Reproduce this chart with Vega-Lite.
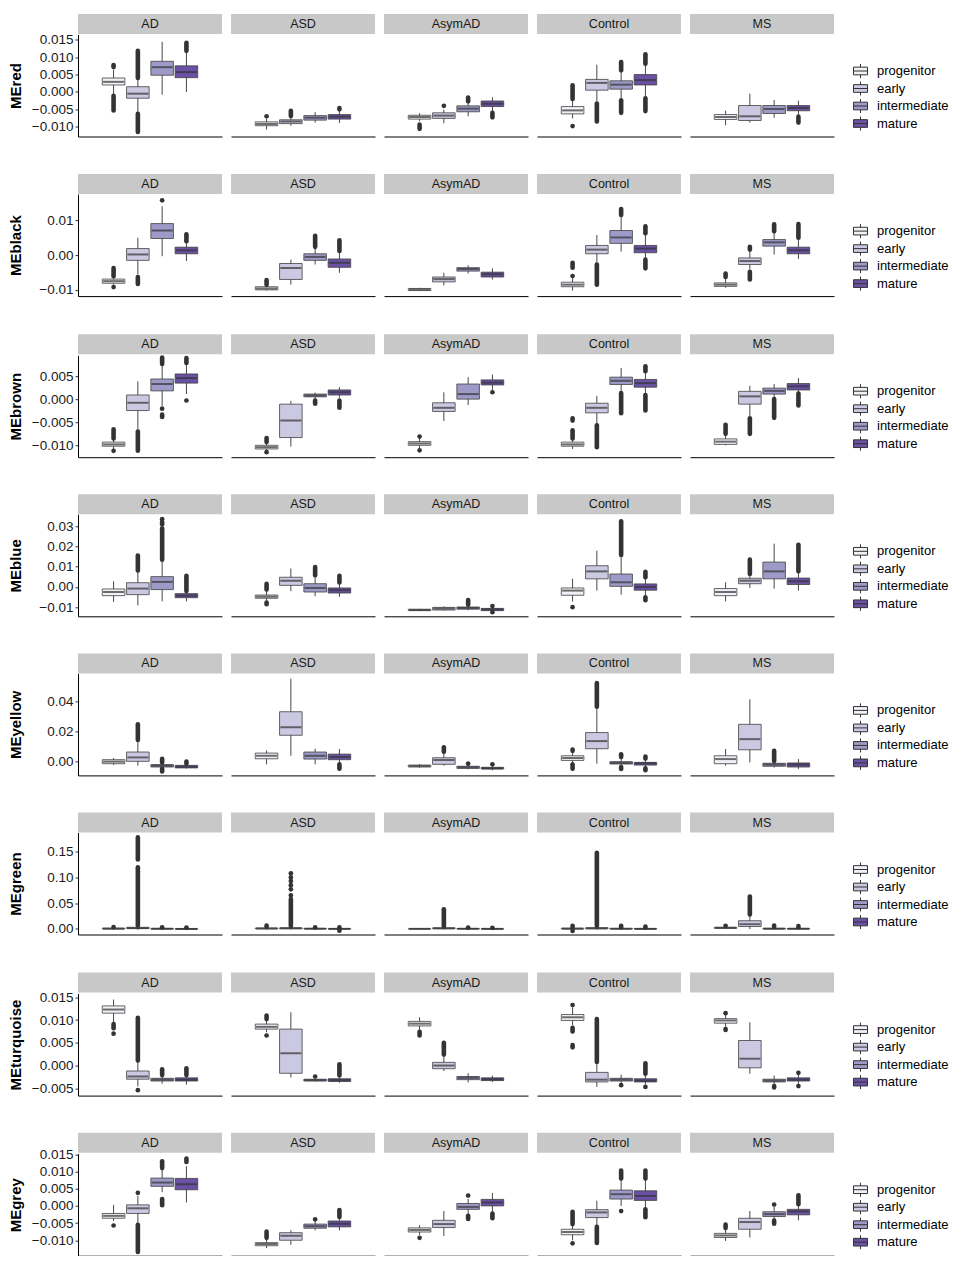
{
"$schema": "https://vega.github.io/schema/vega-lite/v6.json",
"background": "white",
"padding": {"left": 8, "top": 14, "right": 0, "bottom": 0},
"config": {
  "font": "Liberation Sans",
  "view": {"stroke": null},
  "axis": {"grid": false},
  "axisY": {"domainColor": "#000", "domainWidth": 1, "tickColor": "#333", "tickSize": 3, "labelFontSize": 13.5, "labelColor": "#1a1a1a", "labelPadding": 2, "labelOverlap": false, "titleFontSize": 15, "titleFontWeight": "bold", "titleColor": "#000", "titleX": -55},
  "legend": {"title": null, "orient": "none", "legendX": 775, "legendY": 49.5, "symbolType": "M-1,-0.55H1V0.55H-1Z M-1,0H1 M0,-0.55V-1 M0,0.55V1", "symbolSize": 196, "symbolStrokeColor": "#333", "symbolStrokeWidth": 1, "labelFontSize": 13, "labelColor": "#000", "rowPadding": -1.5, "labelOffset": 9, "padding": 0}
},
"datasets": {
"dz": [{"d":"AD"},{"d":"ASD"},{"d":"AsymAD"},{"d":"Control"},{"d":"MS"}],
"red": [
{"k":"b","d":"AD","s":"progenitor","lo":-0.0008,"q1":0.002,"md":0.0029,"q3":0.004,"hi":0.0065},
{"k":"p","d":"AD","s":"progenitor","v":0.0072},
{"k":"p","d":"AD","s":"progenitor","v":0.0077},
{"k":"r","d":"AD","s":"progenitor","a":-0.0053,"b":-0.0011},
{"k":"b","d":"AD","s":"early","lo":-0.0058,"q1":-0.0018,"md":-0.0005,"q3":0.0015,"hi":0.0037},
{"k":"r","d":"AD","s":"early","a":0.004,"b":0.0118},
{"k":"r","d":"AD","s":"early","a":-0.0115,"b":-0.0063},
{"k":"b","d":"AD","s":"intermediate","lo":-0.0008,"q1":0.0048,"md":0.0071,"q3":0.0088,"hi":0.0144},
{"k":"b","d":"AD","s":"mature","lo":0.0,"q1":0.0041,"md":0.0057,"q3":0.0075,"hi":0.0113},
{"k":"r","d":"AD","s":"mature","a":0.0118,"b":0.0141},
{"k":"b","d":"ASD","s":"progenitor","lo":-0.0108,"q1":-0.0097,"md":-0.0092,"q3":-0.0086,"hi":-0.0078},
{"k":"p","d":"ASD","s":"progenitor","v":-0.007},
{"k":"b","d":"ASD","s":"early","lo":-0.0097,"q1":-0.0091,"md":-0.0085,"q3":-0.008,"hi":-0.0073},
{"k":"r","d":"ASD","s":"early","a":-0.0069,"b":-0.0054},
{"k":"b","d":"ASD","s":"intermediate","lo":-0.0088,"q1":-0.0081,"md":-0.0074,"q3":-0.0068,"hi":-0.0058},
{"k":"b","d":"ASD","s":"mature","lo":-0.0089,"q1":-0.0078,"md":-0.0071,"q3":-0.0065,"hi":-0.0055},
{"k":"r","d":"ASD","s":"mature","a":-0.005,"b":-0.0046},
{"k":"b","d":"AsymAD","s":"progenitor","lo":-0.0084,"q1":-0.0078,"md":-0.0072,"q3":-0.0067,"hi":-0.0061},
{"k":"r","d":"AsymAD","s":"progenitor","a":-0.0106,"b":-0.0094},
{"k":"b","d":"AsymAD","s":"early","lo":-0.009,"q1":-0.0076,"md":-0.0068,"q3":-0.006,"hi":-0.0051},
{"k":"p","d":"AsymAD","s":"early","v":-0.004},
{"k":"b","d":"AsymAD","s":"intermediate","lo":-0.007,"q1":-0.0057,"md":-0.0048,"q3":-0.004,"hi":-0.0031},
{"k":"r","d":"AsymAD","s":"intermediate","a":-0.0027,"b":-0.0016},
{"k":"b","d":"AsymAD","s":"mature","lo":-0.0055,"q1":-0.0042,"md":-0.0034,"q3":-0.0026,"hi":-0.0015},
{"k":"r","d":"AsymAD","s":"mature","a":-0.0073,"b":-0.006},
{"k":"b","d":"Control","s":"progenitor","lo":-0.0076,"q1":-0.0063,"md":-0.0053,"q3":-0.0042,"hi":-0.0024},
{"k":"r","d":"Control","s":"progenitor","a":-0.002,"b":0.0019},
{"k":"p","d":"Control","s":"progenitor","v":-0.0098},
{"k":"b","d":"Control","s":"early","lo":-0.0027,"q1":0.0005,"md":0.0026,"q3":0.0036,"hi":0.0078},
{"k":"r","d":"Control","s":"early","a":-0.0085,"b":-0.0033},
{"k":"b","d":"Control","s":"intermediate","lo":-0.0018,"q1":0.0008,"md":0.0021,"q3":0.0032,"hi":0.0059},
{"k":"r","d":"Control","s":"intermediate","a":0.0062,"b":0.0086},
{"k":"r","d":"Control","s":"intermediate","a":-0.006,"b":-0.0024},
{"k":"b","d":"Control","s":"mature","lo":-0.0013,"q1":0.002,"md":0.0034,"q3":0.005,"hi":0.0078},
{"k":"r","d":"Control","s":"mature","a":0.0081,"b":0.0108},
{"k":"r","d":"Control","s":"mature","a":-0.0055,"b":-0.0018},
{"k":"b","d":"MS","s":"progenitor","lo":-0.0096,"q1":-0.0079,"md":-0.0072,"q3":-0.0065,"hi":-0.0054},
{"k":"b","d":"MS","s":"early","lo":-0.0088,"q1":-0.0082,"md":-0.007,"q3":-0.0039,"hi":-0.0005},
{"k":"b","d":"MS","s":"intermediate","lo":-0.0074,"q1":-0.0062,"md":-0.0049,"q3":-0.0039,"hi":-0.0023},
{"k":"b","d":"MS","s":"mature","lo":-0.0065,"q1":-0.0054,"md":-0.0046,"q3":-0.0039,"hi":-0.0025},
{"k":"r","d":"MS","s":"mature","a":-0.0088,"b":-0.0071}
],
"black": [
{"k":"b","d":"AD","s":"progenitor","lo":-0.0085,"q1":-0.0081,"md":-0.0075,"q3":-0.0069,"hi":-0.0065},
{"k":"r","d":"AD","s":"progenitor","a":-0.0061,"b":-0.0037},
{"k":"p","d":"AD","s":"progenitor","v":-0.0092},
{"k":"b","d":"AD","s":"early","lo":-0.0056,"q1":-0.0015,"md":0.0002,"q3":0.0019,"hi":0.005},
{"k":"r","d":"AD","s":"early","a":-0.0083,"b":-0.0063},
{"k":"b","d":"AD","s":"intermediate","lo":-0.0003,"q1":0.0048,"md":0.0071,"q3":0.0091,"hi":0.0141},
{"k":"p","d":"AD","s":"intermediate","v":0.0158},
{"k":"b","d":"AD","s":"mature","lo":-0.0017,"q1":0.0004,"md":0.0014,"q3":0.0023,"hi":0.0038},
{"k":"r","d":"AD","s":"mature","a":0.004,"b":0.006},
{"k":"b","d":"ASD","s":"progenitor","lo":-0.0102,"q1":-0.01,"md":-0.0096,"q3":-0.0091,"hi":-0.0087},
{"k":"r","d":"ASD","s":"progenitor","a":-0.0085,"b":-0.0072},
{"k":"b","d":"ASD","s":"early","lo":-0.0085,"q1":-0.007,"md":-0.0037,"q3":-0.0024,"hi":-0.0013},
{"k":"b","d":"ASD","s":"intermediate","lo":-0.0027,"q1":-0.0015,"md":-0.0005,"q3":0.0004,"hi":0.0021},
{"k":"r","d":"ASD","s":"intermediate","a":0.0024,"b":0.0056},
{"k":"b","d":"ASD","s":"mature","lo":-0.0051,"q1":-0.0035,"md":-0.0022,"q3":-0.0011,"hi":0.0007},
{"k":"r","d":"ASD","s":"mature","a":0.0012,"b":0.0043},
{"k":"b","d":"AsymAD","s":"progenitor","lo":-0.0103,"q1":-0.0102,"md":-0.0099,"q3":-0.0096,"hi":-0.0094},
{"k":"b","d":"AsymAD","s":"early","lo":-0.0087,"q1":-0.0077,"md":-0.0069,"q3":-0.0063,"hi":-0.0051},
{"k":"b","d":"AsymAD","s":"intermediate","lo":-0.0053,"q1":-0.0046,"md":-0.004,"q3":-0.0036,"hi":-0.0029},
{"k":"b","d":"AsymAD","s":"mature","lo":-0.007,"q1":-0.0063,"md":-0.0055,"q3":-0.0049,"hi":-0.0038},
{"k":"b","d":"Control","s":"progenitor","lo":-0.0102,"q1":-0.0091,"md":-0.0085,"q3":-0.0078,"hi":-0.0066},
{"k":"r","d":"Control","s":"progenitor","a":-0.0036,"b":-0.0022},
{"k":"p","d":"Control","s":"progenitor","v":-0.006},
{"k":"b","d":"Control","s":"early","lo":-0.0022,"q1":0.0004,"md":0.0016,"q3":0.0028,"hi":0.0058},
{"k":"r","d":"Control","s":"early","a":-0.0085,"b":-0.0027},
{"k":"b","d":"Control","s":"intermediate","lo":0.001,"q1":0.0034,"md":0.0051,"q3":0.0071,"hi":0.0113},
{"k":"r","d":"Control","s":"intermediate","a":0.0116,"b":0.0133},
{"k":"b","d":"Control","s":"mature","lo":-0.0008,"q1":0.0007,"md":0.0019,"q3":0.0028,"hi":0.006},
{"k":"r","d":"Control","s":"mature","a":0.0063,"b":0.0083},
{"k":"r","d":"Control","s":"mature","a":-0.0038,"b":-0.0013},
{"k":"b","d":"MS","s":"progenitor","lo":-0.0094,"q1":-0.009,"md":-0.0085,"q3":-0.008,"hi":-0.0066},
{"k":"r","d":"MS","s":"progenitor","a":-0.0063,"b":-0.0053},
{"k":"b","d":"MS","s":"early","lo":-0.0041,"q1":-0.0027,"md":-0.0017,"q3":-0.0008,"hi":0.0013},
{"k":"r","d":"MS","s":"early","a":0.0016,"b":0.0024},
{"k":"r","d":"MS","s":"early","a":-0.007,"b":-0.0048},
{"k":"b","d":"MS","s":"intermediate","lo":0.0002,"q1":0.0026,"md":0.0037,"q3":0.0045,"hi":0.0066},
{"k":"r","d":"MS","s":"intermediate","a":0.0069,"b":0.0089},
{"k":"b","d":"MS","s":"mature","lo":-0.0011,"q1":0.0004,"md":0.0014,"q3":0.0023,"hi":0.0046},
{"k":"r","d":"MS","s":"mature","a":0.005,"b":0.009}
],
"brown": [
{"k":"b","d":"AD","s":"progenitor","lo":-0.0108,"q1":-0.0102,"md":-0.0098,"q3":-0.0093,"hi":-0.0087},
{"k":"r","d":"AD","s":"progenitor","a":-0.0085,"b":-0.0065},
{"k":"p","d":"AD","s":"progenitor","v":-0.0112},
{"k":"b","d":"AD","s":"early","lo":-0.0066,"q1":-0.0024,"md":-0.0007,"q3":0.001,"hi":0.004},
{"k":"r","d":"AD","s":"early","a":-0.0112,"b":-0.007},
{"k":"b","d":"AD","s":"intermediate","lo":-0.0014,"q1":0.0019,"md":0.0034,"q3":0.0045,"hi":0.0075},
{"k":"r","d":"AD","s":"intermediate","a":0.0078,"b":0.0092},
{"k":"p","d":"AD","s":"intermediate","v":-0.002},
{"k":"r","d":"AD","s":"intermediate","a":-0.0038,"b":-0.0033},
{"k":"b","d":"AD","s":"mature","lo":0.0012,"q1":0.0036,"md":0.0047,"q3":0.0056,"hi":0.0077},
{"k":"r","d":"AD","s":"mature","a":0.008,"b":0.0091},
{"k":"p","d":"AD","s":"mature","v":-0.0002},
{"k":"b","d":"ASD","s":"progenitor","lo":-0.0112,"q1":-0.0108,"md":-0.0104,"q3":-0.01,"hi":-0.0095},
{"k":"r","d":"ASD","s":"progenitor","a":-0.0093,"b":-0.0084},
{"k":"p","d":"ASD","s":"progenitor","v":-0.0115},
{"k":"b","d":"ASD","s":"early","lo":-0.0103,"q1":-0.0083,"md":-0.0046,"q3":-0.001,"hi":-0.0003},
{"k":"b","d":"ASD","s":"intermediate","lo":0.0001,"q1":0.0006,"md":0.0009,"q3":0.0012,"hi":0.0015},
{"k":"r","d":"ASD","s":"intermediate","a":-0.0009,"b":-0.0002},
{"k":"b","d":"ASD","s":"mature","lo":0.0004,"q1":0.001,"md":0.0016,"q3":0.0021,"hi":0.0027},
{"k":"r","d":"ASD","s":"mature","a":-0.0018,"b":-0.0002},
{"k":"b","d":"AsymAD","s":"progenitor","lo":-0.0106,"q1":-0.01,"md":-0.0096,"q3":-0.0092,"hi":-0.0086},
{"k":"p","d":"AsymAD","s":"progenitor","v":-0.0081},
{"k":"p","d":"AsymAD","s":"progenitor","v":-0.0111},
{"k":"b","d":"AsymAD","s":"early","lo":-0.0047,"q1":-0.0026,"md":-0.0018,"q3":-0.0007,"hi":0.0016},
{"k":"b","d":"AsymAD","s":"intermediate","lo":-0.0012,"q1":0.0001,"md":0.0012,"q3":0.0034,"hi":0.0049},
{"k":"b","d":"AsymAD","s":"mature","lo":0.0021,"q1":0.0032,"md":0.0037,"q3":0.0043,"hi":0.0055},
{"k":"p","d":"AsymAD","s":"mature","v":0.0016},
{"k":"b","d":"Control","s":"progenitor","lo":-0.0108,"q1":-0.0102,"md":-0.0098,"q3":-0.0093,"hi":-0.0088},
{"k":"r","d":"Control","s":"progenitor","a":-0.0085,"b":-0.0067},
{"k":"r","d":"Control","s":"progenitor","a":-0.0046,"b":-0.0041},
{"k":"b","d":"Control","s":"early","lo":-0.0053,"q1":-0.0029,"md":-0.0018,"q3":-0.0008,"hi":0.0008},
{"k":"r","d":"Control","s":"early","a":-0.0104,"b":-0.0056},
{"k":"b","d":"Control","s":"intermediate","lo":0.0019,"q1":0.0033,"md":0.0041,"q3":0.0049,"hi":0.0069},
{"k":"r","d":"Control","s":"intermediate","a":-0.003,"b":0.0014},
{"k":"b","d":"Control","s":"mature","lo":0.0013,"q1":0.0027,"md":0.0036,"q3":0.0044,"hi":0.006},
{"k":"r","d":"Control","s":"mature","a":0.0062,"b":0.0073},
{"k":"r","d":"Control","s":"mature","a":-0.0024,"b":0.001},
{"k":"b","d":"MS","s":"progenitor","lo":-0.01,"q1":-0.0098,"md":-0.0092,"q3":-0.0086,"hi":-0.0077},
{"k":"r","d":"MS","s":"progenitor","a":-0.0075,"b":-0.0055},
{"k":"b","d":"MS","s":"early","lo":-0.0036,"q1":-0.001,"md":0.0007,"q3":0.0018,"hi":0.003},
{"k":"r","d":"MS","s":"early","a":-0.0075,"b":-0.0041},
{"k":"b","d":"MS","s":"intermediate","lo":0.0004,"q1":0.0012,"md":0.0019,"q3":0.0025,"hi":0.0034},
{"k":"r","d":"MS","s":"intermediate","a":-0.004,"b":0.0001},
{"k":"b","d":"MS","s":"mature","lo":0.0016,"q1":0.0021,"md":0.0029,"q3":0.0035,"hi":0.0047},
{"k":"r","d":"MS","s":"mature","a":-0.0013,"b":0.0013}
],
"blue": [
{"k":"b","d":"AD","s":"progenitor","lo":-0.0074,"q1":-0.0043,"md":-0.0025,"q3":-0.001,"hi":0.0028},
{"k":"b","d":"AD","s":"early","lo":-0.0091,"q1":-0.0038,"md":-0.0008,"q3":0.0021,"hi":0.0077},
{"k":"r","d":"AD","s":"early","a":0.0081,"b":0.0155},
{"k":"b","d":"AD","s":"intermediate","lo":-0.0071,"q1":-0.0013,"md":0.0025,"q3":0.0051,"hi":0.0127},
{"k":"r","d":"AD","s":"intermediate","a":0.0135,"b":0.029},
{"k":"p","d":"AD","s":"intermediate","v":0.031},
{"k":"p","d":"AD","s":"intermediate","v":0.032},
{"k":"p","d":"AD","s":"intermediate","v":0.0335},
{"k":"b","d":"AD","s":"mature","lo":-0.0071,"q1":-0.0053,"md":-0.0043,"q3":-0.0033,"hi":-0.0025},
{"k":"r","d":"AD","s":"mature","a":-0.002,"b":0.0055},
{"k":"b","d":"ASD","s":"progenitor","lo":-0.0072,"q1":-0.0056,"md":-0.0048,"q3":-0.004,"hi":-0.0016},
{"k":"r","d":"ASD","s":"progenitor","a":-0.0012,"b":0.0015},
{"k":"r","d":"ASD","s":"progenitor","a":-0.0085,"b":-0.0077},
{"k":"b","d":"ASD","s":"early","lo":-0.0021,"q1":0.0008,"md":0.0031,"q3":0.0048,"hi":0.0091},
{"k":"b","d":"ASD","s":"intermediate","lo":-0.0046,"q1":-0.0025,"md":-0.0005,"q3":0.0016,"hi":0.0053},
{"k":"r","d":"ASD","s":"intermediate","a":0.0058,"b":0.0098},
{"k":"b","d":"ASD","s":"mature","lo":-0.0049,"q1":-0.003,"md":-0.0016,"q3":-0.0005,"hi":0.002},
{"k":"r","d":"ASD","s":"mature","a":0.0022,"b":0.0055},
{"k":"b","d":"AsymAD","s":"progenitor","lo":-0.0119,"q1":-0.0117,"md":-0.0114,"q3":-0.011,"hi":-0.0108},
{"k":"b","d":"AsymAD","s":"early","lo":-0.0117,"q1":-0.0114,"md":-0.0107,"q3":-0.0101,"hi":-0.0096},
{"k":"b","d":"AsymAD","s":"intermediate","lo":-0.0115,"q1":-0.011,"md":-0.0104,"q3":-0.0099,"hi":-0.0092},
{"k":"r","d":"AsymAD","s":"intermediate","a":-0.0088,"b":-0.0065},
{"k":"b","d":"AsymAD","s":"mature","lo":-0.0122,"q1":-0.0117,"md":-0.0111,"q3":-0.0106,"hi":-0.0098},
{"k":"p","d":"AsymAD","s":"mature","v":-0.0094},
{"k":"p","d":"AsymAD","s":"mature","v":-0.0125},
{"k":"b","d":"Control","s":"progenitor","lo":-0.0072,"q1":-0.0041,"md":-0.0018,"q3":-0.0005,"hi":0.0041},
{"k":"p","d":"Control","s":"progenitor","v":-0.01},
{"k":"b","d":"Control","s":"early","lo":-0.0018,"q1":0.004,"md":0.0077,"q3":0.0105,"hi":0.0179},
{"k":"b","d":"Control","s":"intermediate","lo":-0.0038,"q1":0.0003,"md":0.0023,"q3":0.0064,"hi":0.0151},
{"k":"r","d":"Control","s":"intermediate","a":0.0158,"b":0.0325},
{"k":"b","d":"Control","s":"mature","lo":-0.0046,"q1":-0.0016,"md":0.0,"q3":0.0015,"hi":0.0044},
{"k":"r","d":"Control","s":"mature","a":0.0048,"b":0.0075},
{"k":"r","d":"Control","s":"mature","a":-0.0066,"b":-0.0051},
{"k":"b","d":"MS","s":"progenitor","lo":-0.0071,"q1":-0.0043,"md":-0.0025,"q3":-0.0008,"hi":0.0023},
{"k":"b","d":"MS","s":"early","lo":-0.0005,"q1":0.0016,"md":0.0031,"q3":0.0043,"hi":0.0058},
{"k":"r","d":"MS","s":"early","a":0.0064,"b":0.0135},
{"k":"b","d":"MS","s":"intermediate","lo":-0.0008,"q1":0.004,"md":0.0077,"q3":0.0123,"hi":0.0214},
{"k":"b","d":"MS","s":"mature","lo":-0.0018,"q1":0.0012,"md":0.0028,"q3":0.0044,"hi":0.0074},
{"k":"r","d":"MS","s":"mature","a":0.0078,"b":0.0208}
],
"yellow": [
{"k":"b","d":"AD","s":"progenitor","lo":-0.0027,"q1":-0.0018,"md":-0.0004,"q3":0.0009,"hi":0.002},
{"k":"b","d":"AD","s":"early","lo":-0.0031,"q1":-0.0002,"md":0.0024,"q3":0.006,"hi":0.0135},
{"k":"r","d":"AD","s":"early","a":0.0141,"b":0.0245},
{"k":"b","d":"AD","s":"intermediate","lo":-0.0047,"q1":-0.004,"md":-0.0031,"q3":-0.0024,"hi":-0.0013},
{"k":"r","d":"AD","s":"intermediate","a":-0.001,"b":0.0015},
{"k":"r","d":"AD","s":"intermediate","a":-0.007,"b":-0.0052},
{"k":"b","d":"AD","s":"mature","lo":-0.005,"q1":-0.0046,"md":-0.0038,"q3":-0.0029,"hi":-0.0021},
{"k":"r","d":"AD","s":"mature","a":-0.0018,"b":-0.0004},
{"k":"b","d":"ASD","s":"progenitor","lo":-0.0022,"q1":0.0015,"md":0.0035,"q3":0.0053,"hi":0.0071},
{"k":"b","d":"ASD","s":"early","lo":0.0035,"q1":0.0172,"md":0.0225,"q3":0.0329,"hi":0.055},
{"k":"b","d":"ASD","s":"intermediate","lo":-0.0022,"q1":0.0013,"md":0.0035,"q3":0.006,"hi":0.0082},
{"k":"b","d":"ASD","s":"mature","lo":-0.0013,"q1":0.0009,"md":0.0027,"q3":0.0046,"hi":0.008},
{"k":"r","d":"ASD","s":"mature","a":-0.0051,"b":-0.0022},
{"k":"b","d":"AsymAD","s":"progenitor","lo":-0.0045,"q1":-0.004,"md":-0.0033,"q3":-0.0027,"hi":-0.002},
{"k":"b","d":"AsymAD","s":"early","lo":-0.0031,"q1":-0.0022,"md":0.0007,"q3":0.0022,"hi":0.0053},
{"k":"r","d":"AsymAD","s":"early","a":0.0062,"b":0.0092},
{"k":"b","d":"AsymAD","s":"intermediate","lo":-0.0055,"q1":-0.0049,"md":-0.0042,"q3":-0.0035,"hi":-0.0025},
{"k":"p","d":"AsymAD","s":"intermediate","v":-0.0018},
{"k":"b","d":"AsymAD","s":"mature","lo":-0.0062,"q1":-0.0053,"md":-0.0049,"q3":-0.0042,"hi":-0.0032},
{"k":"p","d":"AsymAD","s":"mature","v":-0.0022},
{"k":"b","d":"Control","s":"progenitor","lo":-0.0013,"q1":0.0004,"md":0.002,"q3":0.0035,"hi":0.0064},
{"k":"r","d":"Control","s":"progenitor","a":0.0068,"b":0.0076},
{"k":"r","d":"Control","s":"progenitor","a":-0.0051,"b":-0.0022},
{"k":"b","d":"Control","s":"early","lo":-0.0018,"q1":0.0082,"md":0.0133,"q3":0.019,"hi":0.0351},
{"k":"r","d":"Control","s":"early","a":0.0362,"b":0.052},
{"k":"b","d":"Control","s":"intermediate","lo":-0.0035,"q1":-0.002,"md":-0.0013,"q3":-0.0004,"hi":0.002},
{"k":"r","d":"Control","s":"intermediate","a":0.0027,"b":0.0045},
{"k":"r","d":"Control","s":"intermediate","a":-0.0053,"b":-0.004},
{"k":"b","d":"Control","s":"mature","lo":-0.0044,"q1":-0.0027,"md":-0.0015,"q3":-0.0009,"hi":0.0013},
{"k":"r","d":"Control","s":"mature","a":0.0017,"b":0.003},
{"k":"r","d":"Control","s":"mature","a":-0.0062,"b":-0.0048},
{"k":"b","d":"MS","s":"progenitor","lo":-0.0031,"q1":-0.0018,"md":0.0013,"q3":0.0035,"hi":0.008},
{"k":"b","d":"MS","s":"early","lo":-0.0009,"q1":0.0075,"md":0.0146,"q3":0.0245,"hi":0.0411},
{"k":"b","d":"MS","s":"intermediate","lo":-0.0044,"q1":-0.0035,"md":-0.0024,"q3":-0.0015,"hi":-0.0004},
{"k":"r","d":"MS","s":"intermediate","a":0.0,"b":0.0068},
{"k":"b","d":"MS","s":"mature","lo":-0.0053,"q1":-0.004,"md":-0.0024,"q3":-0.0013,"hi":0.0013}
],
"green": [
{"k":"b","d":"AD","s":"progenitor","lo":-0.0015,"q1":-0.0003,"md":0.0005,"q3":0.0012,"hi":0.0028},
{"k":"p","d":"AD","s":"progenitor","v":0.0035},
{"k":"b","d":"AD","s":"early","lo":-0.002,"q1":0.0005,"md":0.0015,"q3":0.003,"hi":0.006},
{"k":"r","d":"AD","s":"early","a":0.0065,"b":0.12},
{"k":"r","d":"AD","s":"early","a":0.135,"b":0.178},
{"k":"b","d":"AD","s":"intermediate","lo":-0.002,"q1":-0.0005,"md":0.0002,"q3":0.0008,"hi":0.002},
{"k":"p","d":"AD","s":"intermediate","v":0.003},
{"k":"b","d":"AD","s":"mature","lo":-0.0025,"q1":-0.0008,"md":-0.0002,"q3":0.0005,"hi":0.0018},
{"k":"p","d":"AD","s":"mature","v":0.0025},
{"k":"b","d":"ASD","s":"progenitor","lo":-0.001,"q1":0.0,"md":0.0008,"q3":0.0015,"hi":0.003},
{"k":"r","d":"ASD","s":"progenitor","a":0.004,"b":0.0065},
{"k":"b","d":"ASD","s":"early","lo":-0.001,"q1":0.0002,"md":0.001,"q3":0.002,"hi":0.0045},
{"k":"r","d":"ASD","s":"early","a":0.0055,"b":0.058},
{"k":"p","d":"ASD","s":"early","v":0.065},
{"k":"p","d":"ASD","s":"early","v":0.077},
{"k":"p","d":"ASD","s":"early","v":0.085},
{"k":"p","d":"ASD","s":"early","v":0.093},
{"k":"p","d":"ASD","s":"early","v":0.1},
{"k":"p","d":"ASD","s":"early","v":0.108},
{"k":"b","d":"ASD","s":"intermediate","lo":-0.0015,"q1":-0.0003,"md":0.0003,"q3":0.0008,"hi":0.002},
{"k":"p","d":"ASD","s":"intermediate","v":0.003},
{"k":"b","d":"ASD","s":"mature","lo":-0.002,"q1":-0.0006,"md":0.0,"q3":0.0006,"hi":0.0018},
{"k":"p","d":"ASD","s":"mature","v":0.0028},
{"k":"p","d":"ASD","s":"mature","v":-0.0035},
{"k":"b","d":"AsymAD","s":"progenitor","lo":-0.0008,"q1":-0.0003,"md":0.0,"q3":0.0003,"hi":0.0008},
{"k":"b","d":"AsymAD","s":"early","lo":-0.0008,"q1":0.0003,"md":0.001,"q3":0.002,"hi":0.004},
{"k":"r","d":"AsymAD","s":"early","a":0.005,"b":0.038},
{"k":"b","d":"AsymAD","s":"intermediate","lo":-0.001,"q1":-0.0003,"md":0.0002,"q3":0.0006,"hi":0.0015},
{"k":"p","d":"AsymAD","s":"intermediate","v":0.0025},
{"k":"b","d":"AsymAD","s":"mature","lo":-0.0012,"q1":-0.0005,"md":0.0,"q3":0.0004,"hi":0.0012},
{"k":"p","d":"AsymAD","s":"mature","v":0.002},
{"k":"b","d":"Control","s":"progenitor","lo":-0.0015,"q1":-0.0003,"md":0.0004,"q3":0.0012,"hi":0.003},
{"k":"r","d":"Control","s":"progenitor","a":0.0038,"b":0.006},
{"k":"p","d":"Control","s":"progenitor","v":-0.004},
{"k":"b","d":"Control","s":"early","lo":-0.0015,"q1":0.0002,"md":0.001,"q3":0.0022,"hi":0.005},
{"k":"r","d":"Control","s":"early","a":0.0058,"b":0.148},
{"k":"b","d":"Control","s":"intermediate","lo":-0.0015,"q1":-0.0004,"md":0.0002,"q3":0.0008,"hi":0.0022},
{"k":"r","d":"Control","s":"intermediate","a":0.003,"b":0.006},
{"k":"b","d":"Control","s":"mature","lo":-0.0018,"q1":-0.0006,"md":0.0,"q3":0.0006,"hi":0.0018},
{"k":"r","d":"Control","s":"mature","a":0.0025,"b":0.0045},
{"k":"b","d":"MS","s":"progenitor","lo":-0.0005,"q1":0.001,"md":0.002,"q3":0.003,"hi":0.005},
{"k":"p","d":"MS","s":"progenitor","v":0.006},
{"k":"b","d":"MS","s":"early","lo":-0.0005,"q1":0.0045,"md":0.009,"q3":0.0158,"hi":0.0257},
{"k":"r","d":"MS","s":"early","a":0.028,"b":0.063},
{"k":"b","d":"MS","s":"intermediate","lo":-0.0015,"q1":-0.0003,"md":0.0003,"q3":0.001,"hi":0.003},
{"k":"r","d":"MS","s":"intermediate","a":0.004,"b":0.0065},
{"k":"b","d":"MS","s":"mature","lo":-0.0015,"q1":-0.0004,"md":0.0002,"q3":0.0008,"hi":0.0025},
{"k":"r","d":"MS","s":"mature","a":0.0032,"b":0.0055}
],
"turquoise": [
{"k":"b","d":"AD","s":"progenitor","lo":0.0095,"q1":0.0115,"md":0.0123,"q3":0.0131,"hi":0.0145},
{"k":"r","d":"AD","s":"progenitor","a":0.0082,"b":0.0091},
{"k":"p","d":"AD","s":"progenitor","v":0.007},
{"k":"b","d":"AD","s":"early","lo":-0.0046,"q1":-0.003,"md":-0.0024,"q3":-0.0012,"hi":0.0009},
{"k":"r","d":"AD","s":"early","a":0.0011,"b":0.0105},
{"k":"p","d":"AD","s":"early","v":-0.0054},
{"k":"b","d":"AD","s":"intermediate","lo":-0.004,"q1":-0.0034,"md":-0.0031,"q3":-0.0028,"hi":-0.0023},
{"k":"r","d":"AD","s":"intermediate","a":-0.0021,"b":-0.0008},
{"k":"b","d":"AD","s":"mature","lo":-0.0042,"q1":-0.0034,"md":-0.0031,"q3":-0.0027,"hi":-0.0023},
{"k":"r","d":"AD","s":"mature","a":-0.0021,"b":-0.0006},
{"k":"b","d":"ASD","s":"progenitor","lo":0.0073,"q1":0.008,"md":0.0085,"q3":0.0091,"hi":0.0099},
{"k":"r","d":"ASD","s":"progenitor","a":0.0102,"b":0.011},
{"k":"p","d":"ASD","s":"progenitor","v":0.0066},
{"k":"b","d":"ASD","s":"early","lo":-0.0026,"q1":-0.0017,"md":0.0027,"q3":0.008,"hi":0.0117},
{"k":"b","d":"ASD","s":"intermediate","lo":-0.0035,"q1":-0.0034,"md":-0.0032,"q3":-0.003,"hi":-0.0028},
{"k":"p","d":"ASD","s":"intermediate","v":-0.0024},
{"k":"b","d":"ASD","s":"mature","lo":-0.0038,"q1":-0.0035,"md":-0.0032,"q3":-0.0029,"hi":-0.0026},
{"k":"r","d":"ASD","s":"mature","a":-0.0022,"b":0.0003},
{"k":"b","d":"AsymAD","s":"progenitor","lo":0.0078,"q1":0.0087,"md":0.0092,"q3":0.0097,"hi":0.0106},
{"k":"r","d":"AsymAD","s":"progenitor","a":0.0066,"b":0.0074},
{"k":"b","d":"AsymAD","s":"early","lo":-0.0012,"q1":-0.0007,"md":0.0,"q3":0.0007,"hi":0.002},
{"k":"r","d":"AsymAD","s":"early","a":0.0024,"b":0.005},
{"k":"b","d":"AsymAD","s":"intermediate","lo":-0.0037,"q1":-0.0031,"md":-0.0027,"q3":-0.0024,"hi":-0.0017},
{"k":"b","d":"AsymAD","s":"mature","lo":-0.0036,"q1":-0.0033,"md":-0.003,"q3":-0.0027,"hi":-0.0022},
{"k":"b","d":"Control","s":"progenitor","lo":0.0088,"q1":0.0099,"md":0.0106,"q3":0.0112,"hi":0.0128},
{"k":"p","d":"Control","s":"progenitor","v":0.0133},
{"k":"r","d":"Control","s":"progenitor","a":0.0075,"b":0.0083},
{"k":"r","d":"Control","s":"progenitor","a":0.004,"b":0.0045},
{"k":"b","d":"Control","s":"early","lo":-0.0047,"q1":-0.0036,"md":-0.0031,"q3":-0.0015,"hi":0.0004},
{"k":"r","d":"Control","s":"early","a":0.0008,"b":0.0102},
{"k":"b","d":"Control","s":"intermediate","lo":-0.004,"q1":-0.0034,"md":-0.0031,"q3":-0.0028,"hi":-0.002},
{"k":"p","d":"Control","s":"intermediate","v":-0.0043},
{"k":"b","d":"Control","s":"mature","lo":-0.0042,"q1":-0.0036,"md":-0.0033,"q3":-0.0029,"hi":-0.0022},
{"k":"r","d":"Control","s":"mature","a":-0.0018,"b":0.0005},
{"k":"p","d":"Control","s":"mature","v":-0.0047},
{"k":"b","d":"MS","s":"progenitor","lo":0.0085,"q1":0.0093,"md":0.0099,"q3":0.0103,"hi":0.0112},
{"k":"p","d":"MS","s":"progenitor","v":0.0115},
{"k":"r","d":"MS","s":"progenitor","a":0.0078,"b":0.008},
{"k":"b","d":"MS","s":"early","lo":-0.0018,"q1":-0.0005,"md":0.0015,"q3":0.0055,"hi":0.0095},
{"k":"b","d":"MS","s":"intermediate","lo":-0.0044,"q1":-0.0036,"md":-0.0033,"q3":-0.003,"hi":-0.0022},
{"k":"r","d":"MS","s":"intermediate","a":-0.0048,"b":-0.0045},
{"k":"b","d":"MS","s":"mature","lo":-0.0042,"q1":-0.0034,"md":-0.0031,"q3":-0.0027,"hi":-0.002},
{"k":"p","d":"MS","s":"mature","v":-0.0016},
{"k":"p","d":"MS","s":"mature","v":-0.0045}
],
"grey": [
{"k":"b","d":"AD","s":"progenitor","lo":-0.0044,"q1":-0.0036,"md":-0.0029,"q3":-0.0022,"hi":0.0003},
{"k":"p","d":"AD","s":"progenitor","v":-0.0057},
{"k":"b","d":"AD","s":"early","lo":-0.005,"q1":-0.0022,"md":-0.0007,"q3":0.0003,"hi":0.0029},
{"k":"p","d":"AD","s":"early","v":0.0038},
{"k":"r","d":"AD","s":"early","a":-0.0134,"b":-0.0055},
{"k":"b","d":"AD","s":"intermediate","lo":0.004,"q1":0.0057,"md":0.0068,"q3":0.0081,"hi":0.0106},
{"k":"r","d":"AD","s":"intermediate","a":0.011,"b":0.013},
{"k":"r","d":"AD","s":"intermediate","a":0.0002,"b":0.002},
{"k":"b","d":"AD","s":"mature","lo":0.001,"q1":0.0047,"md":0.0063,"q3":0.008,"hi":0.0116},
{"k":"r","d":"AD","s":"mature","a":0.0128,"b":0.0138},
{"k":"b","d":"ASD","s":"progenitor","lo":-0.0123,"q1":-0.0116,"md":-0.0111,"q3":-0.0107,"hi":-0.0097},
{"k":"r","d":"ASD","s":"progenitor","a":-0.0093,"b":-0.0075},
{"k":"b","d":"ASD","s":"early","lo":-0.0113,"q1":-0.01,"md":-0.0087,"q3":-0.0078,"hi":-0.0071},
{"k":"b","d":"ASD","s":"intermediate","lo":-0.0071,"q1":-0.0065,"md":-0.0059,"q3":-0.0053,"hi":-0.0044},
{"k":"p","d":"ASD","s":"intermediate","v":-0.0039},
{"k":"b","d":"ASD","s":"mature","lo":-0.0071,"q1":-0.0061,"md":-0.0052,"q3":-0.0044,"hi":-0.0036},
{"k":"r","d":"ASD","s":"mature","a":-0.0032,"b":-0.0012},
{"k":"b","d":"AsymAD","s":"progenitor","lo":-0.0084,"q1":-0.0076,"md":-0.007,"q3":-0.0064,"hi":-0.0056},
{"k":"p","d":"AsymAD","s":"progenitor","v":-0.0093},
{"k":"b","d":"AsymAD","s":"early","lo":-0.0088,"q1":-0.0063,"md":-0.0053,"q3":-0.0042,"hi":-0.0015},
{"k":"b","d":"AsymAD","s":"intermediate","lo":-0.0024,"q1":-0.001,"md":-0.0003,"q3":0.0007,"hi":0.002},
{"k":"p","d":"AsymAD","s":"intermediate","v":0.003},
{"k":"r","d":"AsymAD","s":"intermediate","a":-0.0038,"b":-0.0029},
{"k":"b","d":"AsymAD","s":"mature","lo":-0.0019,"q1":0.0,"md":0.001,"q3":0.0019,"hi":0.0038},
{"k":"r","d":"AsymAD","s":"mature","a":-0.0036,"b":-0.0022},
{"k":"b","d":"Control","s":"progenitor","lo":-0.01,"q1":-0.0084,"md":-0.0076,"q3":-0.0068,"hi":-0.0058},
{"k":"r","d":"Control","s":"progenitor","a":-0.0053,"b":-0.0017},
{"k":"p","d":"Control","s":"progenitor","v":-0.0109},
{"k":"b","d":"Control","s":"early","lo":-0.0058,"q1":-0.0034,"md":-0.0019,"q3":-0.0011,"hi":0.0015},
{"k":"r","d":"Control","s":"early","a":-0.0108,"b":-0.0061},
{"k":"b","d":"Control","s":"intermediate","lo":0.0,"q1":0.002,"md":0.0034,"q3":0.0046,"hi":0.0078},
{"k":"r","d":"Control","s":"intermediate","a":0.008,"b":0.0103},
{"k":"p","d":"Control","s":"intermediate","v":-0.0015},
{"k":"b","d":"Control","s":"mature","lo":-0.0005,"q1":0.0016,"md":0.0029,"q3":0.0044,"hi":0.0076},
{"k":"r","d":"Control","s":"mature","a":0.008,"b":0.0103},
{"k":"r","d":"Control","s":"mature","a":-0.0033,"b":-0.001},
{"k":"b","d":"MS","s":"progenitor","lo":-0.0102,"q1":-0.0092,"md":-0.0086,"q3":-0.008,"hi":-0.0068},
{"k":"r","d":"MS","s":"progenitor","a":-0.0064,"b":-0.0054},
{"k":"b","d":"MS","s":"early","lo":-0.0092,"q1":-0.0068,"md":-0.0047,"q3":-0.0036,"hi":-0.0015},
{"k":"b","d":"MS","s":"intermediate","lo":-0.004,"q1":-0.0031,"md":-0.0024,"q3":-0.0017,"hi":-0.0001},
{"k":"p","d":"MS","s":"intermediate","v":0.0004},
{"k":"r","d":"MS","s":"intermediate","a":-0.0052,"b":-0.0043},
{"k":"b","d":"MS","s":"mature","lo":-0.0042,"q1":-0.0026,"md":-0.0016,"q3":-0.001,"hi":0.0003},
{"k":"r","d":"MS","s":"mature","a":0.0005,"b":0.0031}
]
},
"resolve": {"scale": {"x": "independent", "y": "independent", "fill": "independent"}, "legend": {"fill": "independent"}},
"spacing": 37.1,
"vconcat": [
{"spacing": -1.5, "resolve": {"scale": {"x": "independent"}}, "vconcat": [
 {"data": {"name": "dz"}, "width": 756, "height": 20, "layer": [
  {"mark": {"type": "rect", "color": "#c8c8c8"}, "encoding": {"x": {"field": "d", "type": "nominal", "sort": ["AD","ASD","AsymAD","Control","MS"], "scale": {"paddingInner": 0.0588, "paddingOuter": 0}, "axis": null}}},
  {"mark": {"type": "text", "fontSize": 12.5, "color": "#1a1a1a"}, "encoding": {"x": {"field": "d", "type": "nominal", "sort": ["AD","ASD","AsymAD","Control","MS"], "axis": null}, "text": {"field": "d"}}}
 ]},
 {"data": {"name": "red"}, "spacing": 9,
  "facet": {"column": {"field": "d", "type": "nominal", "sort": ["AD","ASD","AsymAD","Control","MS"], "header": {"labels": false, "title": null}}},
  "spec": {"width": 144, "height": 102,
   "encoding": {"x": {"field": "s", "type": "nominal", "scale": {"domain": ["progenitor","early","intermediate","mature"], "paddingInner": 0.07, "paddingOuter": 1.235}, "axis": {"labels": false, "ticks": false, "title": null, "domainColor": "#000", "domainWidth": 1}}},
   "layer": [
    {"transform": [{"filter": "datum.k == 'b'"}], "mark": {"type": "rule", "color": "#333", "strokeWidth": 0.9}, "encoding": {"y": {"field": "lo", "type": "quantitative", "title": "MEred", "scale": {"domain": [-0.0128, 0.0165], "nice": false, "zero": false}, "axis": {"values": [-0.01,-0.005,0,0.005,0.01,0.015], "tickCount": 12, "format": ".3f", "labelOverlap": false, "labelBound": false, "labelFlush": false}}, "y2": {"field": "hi"}}},
    {"transform": [{"filter": "datum.k == 'b'"}], "mark": {"type": "bar", "stroke": "#404040", "strokeWidth": 0.8}, "encoding": {"y": {"field": "q1", "type": "quantitative"}, "y2": {"field": "q3"}, "fill": {"field": "s", "type": "nominal", "scale": {"domain": ["progenitor","early","intermediate","mature"], "range": ["#f2f0f7","#cbc9e2","#9e9ac8","#6a51a3"]}}}},
    {"transform": [{"filter": "datum.k == 'b'"}], "mark": {"type": "tick", "color": "#333", "thickness": 2, "size": 21}, "encoding": {"y": {"field": "md", "type": "quantitative"}}},
    {"transform": [{"filter": "datum.k == 'r'"}], "mark": {"type": "rule", "color": "#333", "strokeWidth": 4.6, "strokeCap": "round"}, "encoding": {"y": {"field": "a", "type": "quantitative"}, "y2": {"field": "b"}}},
    {"transform": [{"filter": "datum.k == 'p'"}], "mark": {"type": "point", "filled": true, "color": "#333", "size": 22, "opacity": 1}, "encoding": {"y": {"field": "v", "type": "quantitative"}}}
   ]}
 }
]},
{"spacing": 0, "resolve": {"scale": {"x": "independent"}}, "vconcat": [
 {"data": {"name": "dz"}, "width": 756, "height": 20, "layer": [
  {"mark": {"type": "rect", "color": "#c8c8c8"}, "encoding": {"x": {"field": "d", "type": "nominal", "sort": ["AD","ASD","AsymAD","Control","MS"], "scale": {"paddingInner": 0.0588, "paddingOuter": 0}, "axis": null}}},
  {"mark": {"type": "text", "fontSize": 12.5, "color": "#1a1a1a"}, "encoding": {"x": {"field": "d", "type": "nominal", "sort": ["AD","ASD","AsymAD","Control","MS"], "axis": null}, "text": {"field": "d"}}}
 ]},
 {"data": {"name": "black"}, "spacing": 9,
  "facet": {"column": {"field": "d", "type": "nominal", "sort": ["AD","ASD","AsymAD","Control","MS"], "header": {"labels": false, "title": null}}},
  "spec": {"width": 144, "height": 102,
   "encoding": {"x": {"field": "s", "type": "nominal", "scale": {"domain": ["progenitor","early","intermediate","mature"], "paddingInner": 0.07, "paddingOuter": 1.235}, "axis": {"labels": false, "ticks": false, "title": null, "domainColor": "#000", "domainWidth": 1}}},
   "layer": [
    {"transform": [{"filter": "datum.k == 'b'"}], "mark": {"type": "rule", "color": "#333", "strokeWidth": 0.9}, "encoding": {"y": {"field": "lo", "type": "quantitative", "title": "MEblack", "scale": {"domain": [-0.0118, 0.0176], "nice": false, "zero": false}, "axis": {"values": [-0.01,0,0.01], "tickCount": 12, "format": ".2f", "labelOverlap": false, "labelBound": false, "labelFlush": false}}, "y2": {"field": "hi"}}},
    {"transform": [{"filter": "datum.k == 'b'"}], "mark": {"type": "bar", "stroke": "#404040", "strokeWidth": 0.8}, "encoding": {"y": {"field": "q1", "type": "quantitative"}, "y2": {"field": "q3"}, "fill": {"field": "s", "type": "nominal", "scale": {"domain": ["progenitor","early","intermediate","mature"], "range": ["#f2f0f7","#cbc9e2","#9e9ac8","#6a51a3"]}}}},
    {"transform": [{"filter": "datum.k == 'b'"}], "mark": {"type": "tick", "color": "#333", "thickness": 2, "size": 21}, "encoding": {"y": {"field": "md", "type": "quantitative"}}},
    {"transform": [{"filter": "datum.k == 'r'"}], "mark": {"type": "rule", "color": "#333", "strokeWidth": 4.6, "strokeCap": "round"}, "encoding": {"y": {"field": "a", "type": "quantitative"}, "y2": {"field": "b"}}},
    {"transform": [{"filter": "datum.k == 'p'"}], "mark": {"type": "point", "filled": true, "color": "#333", "size": 22, "opacity": 1}, "encoding": {"y": {"field": "v", "type": "quantitative"}}}
   ]}
 }
]},
{"spacing": 0, "resolve": {"scale": {"x": "independent"}}, "vconcat": [
 {"data": {"name": "dz"}, "width": 756, "height": 20, "layer": [
  {"mark": {"type": "rect", "color": "#c8c8c8"}, "encoding": {"x": {"field": "d", "type": "nominal", "sort": ["AD","ASD","AsymAD","Control","MS"], "scale": {"paddingInner": 0.0588, "paddingOuter": 0}, "axis": null}}},
  {"mark": {"type": "text", "fontSize": 12.5, "color": "#1a1a1a"}, "encoding": {"x": {"field": "d", "type": "nominal", "sort": ["AD","ASD","AsymAD","Control","MS"], "axis": null}, "text": {"field": "d"}}}
 ]},
 {"data": {"name": "brown"}, "spacing": 9,
  "facet": {"column": {"field": "d", "type": "nominal", "sort": ["AD","ASD","AsymAD","Control","MS"], "header": {"labels": false, "title": null}}},
  "spec": {"width": 144, "height": 102,
   "encoding": {"x": {"field": "s", "type": "nominal", "scale": {"domain": ["progenitor","early","intermediate","mature"], "paddingInner": 0.07, "paddingOuter": 1.235}, "axis": {"labels": false, "ticks": false, "title": null, "domainColor": "#000", "domainWidth": 1}}},
   "layer": [
    {"transform": [{"filter": "datum.k == 'b'"}], "mark": {"type": "rule", "color": "#333", "strokeWidth": 0.9}, "encoding": {"y": {"field": "lo", "type": "quantitative", "title": "MEbrown", "scale": {"domain": [-0.0126, 0.0097], "nice": false, "zero": false}, "axis": {"values": [-0.01,-0.005,0,0.005], "tickCount": 12, "format": ".3f", "labelOverlap": false, "labelBound": false, "labelFlush": false}}, "y2": {"field": "hi"}}},
    {"transform": [{"filter": "datum.k == 'b'"}], "mark": {"type": "bar", "stroke": "#404040", "strokeWidth": 0.8}, "encoding": {"y": {"field": "q1", "type": "quantitative"}, "y2": {"field": "q3"}, "fill": {"field": "s", "type": "nominal", "scale": {"domain": ["progenitor","early","intermediate","mature"], "range": ["#f2f0f7","#cbc9e2","#9e9ac8","#6a51a3"]}}}},
    {"transform": [{"filter": "datum.k == 'b'"}], "mark": {"type": "tick", "color": "#333", "thickness": 2, "size": 21}, "encoding": {"y": {"field": "md", "type": "quantitative"}}},
    {"transform": [{"filter": "datum.k == 'r'"}], "mark": {"type": "rule", "color": "#333", "strokeWidth": 4.6, "strokeCap": "round"}, "encoding": {"y": {"field": "a", "type": "quantitative"}, "y2": {"field": "b"}}},
    {"transform": [{"filter": "datum.k == 'p'"}], "mark": {"type": "point", "filled": true, "color": "#333", "size": 22, "opacity": 1}, "encoding": {"y": {"field": "v", "type": "quantitative"}}}
   ]}
 }
]},
{"spacing": 0, "resolve": {"scale": {"x": "independent"}}, "vconcat": [
 {"data": {"name": "dz"}, "width": 756, "height": 20, "layer": [
  {"mark": {"type": "rect", "color": "#c8c8c8"}, "encoding": {"x": {"field": "d", "type": "nominal", "sort": ["AD","ASD","AsymAD","Control","MS"], "scale": {"paddingInner": 0.0588, "paddingOuter": 0}, "axis": null}}},
  {"mark": {"type": "text", "fontSize": 12.5, "color": "#1a1a1a"}, "encoding": {"x": {"field": "d", "type": "nominal", "sort": ["AD","ASD","AsymAD","Control","MS"], "axis": null}, "text": {"field": "d"}}}
 ]},
 {"data": {"name": "blue"}, "spacing": 9,
  "facet": {"column": {"field": "d", "type": "nominal", "sort": ["AD","ASD","AsymAD","Control","MS"], "header": {"labels": false, "title": null}}},
  "spec": {"width": 144, "height": 102,
   "encoding": {"x": {"field": "s", "type": "nominal", "scale": {"domain": ["progenitor","early","intermediate","mature"], "paddingInner": 0.07, "paddingOuter": 1.235}, "axis": {"labels": false, "ticks": false, "title": null, "domainColor": "#000", "domainWidth": 1}}},
   "layer": [
    {"transform": [{"filter": "datum.k == 'b'"}], "mark": {"type": "rule", "color": "#333", "strokeWidth": 0.9}, "encoding": {"y": {"field": "lo", "type": "quantitative", "title": "MEblue", "scale": {"domain": [-0.0145, 0.0359], "nice": false, "zero": false}, "axis": {"values": [-0.01,0,0.01,0.02,0.03], "tickCount": 12, "format": ".2f", "labelOverlap": false, "labelBound": false, "labelFlush": false}}, "y2": {"field": "hi"}}},
    {"transform": [{"filter": "datum.k == 'b'"}], "mark": {"type": "bar", "stroke": "#404040", "strokeWidth": 0.8}, "encoding": {"y": {"field": "q1", "type": "quantitative"}, "y2": {"field": "q3"}, "fill": {"field": "s", "type": "nominal", "scale": {"domain": ["progenitor","early","intermediate","mature"], "range": ["#f2f0f7","#cbc9e2","#9e9ac8","#6a51a3"]}}}},
    {"transform": [{"filter": "datum.k == 'b'"}], "mark": {"type": "tick", "color": "#333", "thickness": 2, "size": 21}, "encoding": {"y": {"field": "md", "type": "quantitative"}}},
    {"transform": [{"filter": "datum.k == 'r'"}], "mark": {"type": "rule", "color": "#333", "strokeWidth": 4.6, "strokeCap": "round"}, "encoding": {"y": {"field": "a", "type": "quantitative"}, "y2": {"field": "b"}}},
    {"transform": [{"filter": "datum.k == 'p'"}], "mark": {"type": "point", "filled": true, "color": "#333", "size": 22, "opacity": 1}, "encoding": {"y": {"field": "v", "type": "quantitative"}}}
   ]}
 }
]},
{"spacing": 0, "resolve": {"scale": {"x": "independent"}}, "vconcat": [
 {"data": {"name": "dz"}, "width": 756, "height": 20, "layer": [
  {"mark": {"type": "rect", "color": "#c8c8c8"}, "encoding": {"x": {"field": "d", "type": "nominal", "sort": ["AD","ASD","AsymAD","Control","MS"], "scale": {"paddingInner": 0.0588, "paddingOuter": 0}, "axis": null}}},
  {"mark": {"type": "text", "fontSize": 12.5, "color": "#1a1a1a"}, "encoding": {"x": {"field": "d", "type": "nominal", "sort": ["AD","ASD","AsymAD","Control","MS"], "axis": null}, "text": {"field": "d"}}}
 ]},
 {"data": {"name": "yellow"}, "spacing": 9,
  "facet": {"column": {"field": "d", "type": "nominal", "sort": ["AD","ASD","AsymAD","Control","MS"], "header": {"labels": false, "title": null}}},
  "spec": {"width": 144, "height": 102,
   "encoding": {"x": {"field": "s", "type": "nominal", "scale": {"domain": ["progenitor","early","intermediate","mature"], "paddingInner": 0.07, "paddingOuter": 1.235}, "axis": {"labels": false, "ticks": false, "title": null, "domainColor": "#000", "domainWidth": 1}}},
   "layer": [
    {"transform": [{"filter": "datum.k == 'b'"}], "mark": {"type": "rule", "color": "#333", "strokeWidth": 0.9}, "encoding": {"y": {"field": "lo", "type": "quantitative", "title": "MEyellow", "scale": {"domain": [-0.0096, 0.0585], "nice": false, "zero": false}, "axis": {"values": [0,0.02,0.04], "tickCount": 12, "format": ".2f", "labelOverlap": false, "labelBound": false, "labelFlush": false}}, "y2": {"field": "hi"}}},
    {"transform": [{"filter": "datum.k == 'b'"}], "mark": {"type": "bar", "stroke": "#404040", "strokeWidth": 0.8}, "encoding": {"y": {"field": "q1", "type": "quantitative"}, "y2": {"field": "q3"}, "fill": {"field": "s", "type": "nominal", "scale": {"domain": ["progenitor","early","intermediate","mature"], "range": ["#f2f0f7","#cbc9e2","#9e9ac8","#6a51a3"]}}}},
    {"transform": [{"filter": "datum.k == 'b'"}], "mark": {"type": "tick", "color": "#333", "thickness": 2, "size": 21}, "encoding": {"y": {"field": "md", "type": "quantitative"}}},
    {"transform": [{"filter": "datum.k == 'r'"}], "mark": {"type": "rule", "color": "#333", "strokeWidth": 4.6, "strokeCap": "round"}, "encoding": {"y": {"field": "a", "type": "quantitative"}, "y2": {"field": "b"}}},
    {"transform": [{"filter": "datum.k == 'p'"}], "mark": {"type": "point", "filled": true, "color": "#333", "size": 22, "opacity": 1}, "encoding": {"y": {"field": "v", "type": "quantitative"}}}
   ]}
 }
]},
{"spacing": 0, "resolve": {"scale": {"x": "independent"}}, "vconcat": [
 {"data": {"name": "dz"}, "width": 756, "height": 20, "layer": [
  {"mark": {"type": "rect", "color": "#c8c8c8"}, "encoding": {"x": {"field": "d", "type": "nominal", "sort": ["AD","ASD","AsymAD","Control","MS"], "scale": {"paddingInner": 0.0588, "paddingOuter": 0}, "axis": null}}},
  {"mark": {"type": "text", "fontSize": 12.5, "color": "#1a1a1a"}, "encoding": {"x": {"field": "d", "type": "nominal", "sort": ["AD","ASD","AsymAD","Control","MS"], "axis": null}, "text": {"field": "d"}}}
 ]},
 {"data": {"name": "green"}, "spacing": 9,
  "facet": {"column": {"field": "d", "type": "nominal", "sort": ["AD","ASD","AsymAD","Control","MS"], "header": {"labels": false, "title": null}}},
  "spec": {"width": 144, "height": 102,
   "encoding": {"x": {"field": "s", "type": "nominal", "scale": {"domain": ["progenitor","early","intermediate","mature"], "paddingInner": 0.07, "paddingOuter": 1.235}, "axis": {"labels": false, "ticks": false, "title": null, "domainColor": "#000", "domainWidth": 1}}},
   "layer": [
    {"transform": [{"filter": "datum.k == 'b'"}], "mark": {"type": "rule", "color": "#333", "strokeWidth": 0.9}, "encoding": {"y": {"field": "lo", "type": "quantitative", "title": "MEgreen", "scale": {"domain": [-0.011, 0.1875], "nice": false, "zero": false}, "axis": {"values": [0,0.05,0.1,0.15], "tickCount": 12, "format": ".2f", "labelOverlap": false, "labelBound": false, "labelFlush": false}}, "y2": {"field": "hi"}}},
    {"transform": [{"filter": "datum.k == 'b'"}], "mark": {"type": "bar", "stroke": "#404040", "strokeWidth": 0.8}, "encoding": {"y": {"field": "q1", "type": "quantitative"}, "y2": {"field": "q3"}, "fill": {"field": "s", "type": "nominal", "scale": {"domain": ["progenitor","early","intermediate","mature"], "range": ["#f2f0f7","#cbc9e2","#9e9ac8","#6a51a3"]}}}},
    {"transform": [{"filter": "datum.k == 'b'"}], "mark": {"type": "tick", "color": "#333", "thickness": 2, "size": 21}, "encoding": {"y": {"field": "md", "type": "quantitative"}}},
    {"transform": [{"filter": "datum.k == 'r'"}], "mark": {"type": "rule", "color": "#333", "strokeWidth": 4.6, "strokeCap": "round"}, "encoding": {"y": {"field": "a", "type": "quantitative"}, "y2": {"field": "b"}}},
    {"transform": [{"filter": "datum.k == 'p'"}], "mark": {"type": "point", "filled": true, "color": "#333", "size": 22, "opacity": 1}, "encoding": {"y": {"field": "v", "type": "quantitative"}}}
   ]}
 }
]},
{"spacing": -3, "resolve": {"scale": {"x": "independent"}}, "vconcat": [
 {"data": {"name": "dz"}, "width": 756, "height": 20, "layer": [
  {"mark": {"type": "rect", "color": "#c8c8c8"}, "encoding": {"x": {"field": "d", "type": "nominal", "sort": ["AD","ASD","AsymAD","Control","MS"], "scale": {"paddingInner": 0.0588, "paddingOuter": 0}, "axis": null}}},
  {"mark": {"type": "text", "fontSize": 12.5, "color": "#1a1a1a"}, "encoding": {"x": {"field": "d", "type": "nominal", "sort": ["AD","ASD","AsymAD","Control","MS"], "axis": null}, "text": {"field": "d"}}}
 ]},
 {"data": {"name": "turquoise"}, "spacing": 9,
  "facet": {"column": {"field": "d", "type": "nominal", "sort": ["AD","ASD","AsymAD","Control","MS"], "header": {"labels": false, "title": null}}},
  "spec": {"width": 144, "height": 102,
   "encoding": {"x": {"field": "s", "type": "nominal", "scale": {"domain": ["progenitor","early","intermediate","mature"], "paddingInner": 0.07, "paddingOuter": 1.235}, "axis": {"labels": false, "ticks": false, "title": null, "domainColor": "#000", "domainWidth": 1}}},
   "layer": [
    {"transform": [{"filter": "datum.k == 'b'"}], "mark": {"type": "rule", "color": "#333", "strokeWidth": 0.9}, "encoding": {"y": {"field": "lo", "type": "quantitative", "title": "MEturquoise", "scale": {"domain": [-0.0066, 0.0158], "nice": false, "zero": false}, "axis": {"values": [-0.005,0,0.005,0.01,0.015], "tickCount": 12, "format": ".3f", "labelOverlap": false, "labelBound": false, "labelFlush": false}}, "y2": {"field": "hi"}}},
    {"transform": [{"filter": "datum.k == 'b'"}], "mark": {"type": "bar", "stroke": "#404040", "strokeWidth": 0.8}, "encoding": {"y": {"field": "q1", "type": "quantitative"}, "y2": {"field": "q3"}, "fill": {"field": "s", "type": "nominal", "scale": {"domain": ["progenitor","early","intermediate","mature"], "range": ["#f2f0f7","#cbc9e2","#9e9ac8","#6a51a3"]}}}},
    {"transform": [{"filter": "datum.k == 'b'"}], "mark": {"type": "tick", "color": "#333", "thickness": 2, "size": 21}, "encoding": {"y": {"field": "md", "type": "quantitative"}}},
    {"transform": [{"filter": "datum.k == 'r'"}], "mark": {"type": "rule", "color": "#333", "strokeWidth": 4.6, "strokeCap": "round"}, "encoding": {"y": {"field": "a", "type": "quantitative"}, "y2": {"field": "b"}}},
    {"transform": [{"filter": "datum.k == 'p'"}], "mark": {"type": "point", "filled": true, "color": "#333", "size": 22, "opacity": 1}, "encoding": {"y": {"field": "v", "type": "quantitative"}}}
   ]}
 }
]},
{"spacing": -6, "resolve": {"scale": {"x": "independent"}}, "vconcat": [
 {"data": {"name": "dz"}, "width": 756, "height": 20, "layer": [
  {"mark": {"type": "rect", "color": "#c8c8c8"}, "encoding": {"x": {"field": "d", "type": "nominal", "sort": ["AD","ASD","AsymAD","Control","MS"], "scale": {"paddingInner": 0.0588, "paddingOuter": 0}, "axis": null}}},
  {"mark": {"type": "text", "fontSize": 12.5, "color": "#1a1a1a"}, "encoding": {"x": {"field": "d", "type": "nominal", "sort": ["AD","ASD","AsymAD","Control","MS"], "axis": null}, "text": {"field": "d"}}}
 ]},
 {"data": {"name": "grey"}, "spacing": 9,
  "facet": {"column": {"field": "d", "type": "nominal", "sort": ["AD","ASD","AsymAD","Control","MS"], "header": {"labels": false, "title": null}}},
  "spec": {"width": 144, "height": 102,
   "encoding": {"x": {"field": "s", "type": "nominal", "scale": {"domain": ["progenitor","early","intermediate","mature"], "paddingInner": 0.07, "paddingOuter": 1.235}, "axis": {"labels": false, "ticks": false, "title": null, "domainColor": "#000", "domainWidth": 1}}},
   "layer": [
    {"transform": [{"filter": "datum.k == 'b'"}], "mark": {"type": "rule", "color": "#333", "strokeWidth": 0.9}, "encoding": {"y": {"field": "lo", "type": "quantitative", "title": "MEgrey", "scale": {"domain": [-0.0145, 0.0152], "nice": false, "zero": false}, "axis": {"values": [-0.01,-0.005,0,0.005,0.01,0.015], "tickCount": 12, "format": ".3f", "labelOverlap": false, "labelBound": false, "labelFlush": false}}, "y2": {"field": "hi"}}},
    {"transform": [{"filter": "datum.k == 'b'"}], "mark": {"type": "bar", "stroke": "#404040", "strokeWidth": 0.8}, "encoding": {"y": {"field": "q1", "type": "quantitative"}, "y2": {"field": "q3"}, "fill": {"field": "s", "type": "nominal", "scale": {"domain": ["progenitor","early","intermediate","mature"], "range": ["#f2f0f7","#cbc9e2","#9e9ac8","#6a51a3"]}}}},
    {"transform": [{"filter": "datum.k == 'b'"}], "mark": {"type": "tick", "color": "#333", "thickness": 2, "size": 21}, "encoding": {"y": {"field": "md", "type": "quantitative"}}},
    {"transform": [{"filter": "datum.k == 'r'"}], "mark": {"type": "rule", "color": "#333", "strokeWidth": 4.6, "strokeCap": "round"}, "encoding": {"y": {"field": "a", "type": "quantitative"}, "y2": {"field": "b"}}},
    {"transform": [{"filter": "datum.k == 'p'"}], "mark": {"type": "point", "filled": true, "color": "#333", "size": 22, "opacity": 1}, "encoding": {"y": {"field": "v", "type": "quantitative"}}}
   ]}
 }
]}
]
}
